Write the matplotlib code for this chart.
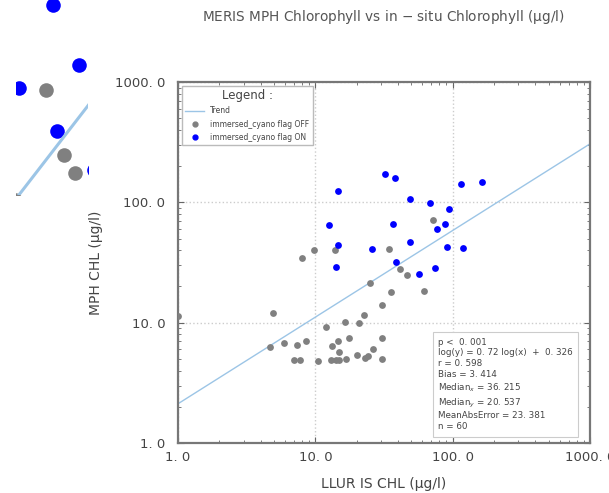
import numpy as np
import matplotlib
matplotlib.use("Agg")
import matplotlib.pyplot as plt
from matplotlib.lines import Line2D
from matplotlib.ticker import FixedLocator, FuncFormatter, LogLocator, NullFormatter

# in-situ (LLUR IS) vs MERIS MPH chlorophyll, ug/l
chl_is_off = [72.0, 9.8, 13.8, 8.0, 34.4, 41.4, 46.8, 25.0, 35.4, 61.6,
              30.8, 4.9, 22.6, 16.5, 20.8, 11.9, 4.7, 5.9, 7.4, 8.6,
              13.2, 14.7, 17.7, 30.5, 14.9, 26.3, 20.0, 23.0, 24.1, 7.0,
              7.7, 10.5, 13.1, 14.2, 14.9, 16.8, 30.8, 1.0]
chl_mph_off = [71.8, 40.2, 40.2, 34.3, 40.7, 27.8, 25.1, 21.5, 17.9, 18.5,
               14.0, 12.0, 11.6, 10.1, 9.9, 9.2, 6.3, 6.8, 6.5, 7.1,
               6.4, 7.0, 7.4, 7.5, 5.7, 6.0, 5.4, 5.1, 5.3, 4.9,
               4.9, 4.8, 4.9, 4.9, 4.9, 5.0, 5.0, 11.4]
chl_is_on = [32.0, 38.1, 14.7, 115.1, 163.8, 48.7, 68.1, 93.7, 12.6, 37.0,
             88.5, 77.0, 14.6, 48.7, 26.0, 90.6, 119.7, 14.2, 38.5, 74.1, 56.6]
chl_mph_on = [171.2, 160.4, 125.1, 141.4, 147.8, 106.1, 99.4, 88.1, 64.9, 66.5,
              66.5, 59.8, 44.0, 46.9, 41.2, 42.6, 41.8, 29.2, 32.1, 28.7, 25.5]

# regression in log space: log(y) = slope*log(x) + intercept
slope, intercept = 0.72, 0.326
stat_names = ["r", "Bias", "Median$_x$", "Median$_y$", "MeanAbsError", "n"]
stat_values = ["0.598", "3.414", "36.215", "20.537", "23.381", "60"]
p_value = "0.001"

major = [1, 10, 100, 1000]
grey = "#808080"
blue = "#0000ff"
trend_c = "#9cc5e6"
txt = "#444444"


def spaced(s):
    return s.replace(".", ". ")


W, H = 609, 493
fig = plt.figure(figsize=(W / 100, H / 100), dpi=100)
ax = fig.add_axes([178 / W, 50 / H, 412 / W, 361 / H])

xs = np.logspace(0, 3, 50)
ax.plot(xs, 10 ** (slope * np.log10(xs) + intercept), color=trend_c, lw=1.0, zorder=2)
ax.scatter(chl_is_off, chl_mph_off, s=24, color=grey, lw=0, zorder=3)
ax.scatter(chl_is_on, chl_mph_on, s=24, color=blue, lw=0, zorder=4)

ax.set_xscale("log")
ax.set_yscale("log")
ax.set_xlim(1, 1000)
ax.set_ylim(1, 1000)

fmt = FuncFormatter(lambda v, p: spaced("%.1f" % v))
for axis in (ax.xaxis, ax.yaxis):
    axis.set_major_locator(FixedLocator(major))
    axis.set_major_formatter(fmt)
    axis.set_minor_locator(LogLocator(base=10, subs=np.arange(2, 10)))
    axis.set_minor_formatter(NullFormatter())
ax.tick_params(which="both", direction="in", top=True, right=True,
               colors="#666666", labelcolor=txt, labelsize=9.5)
ax.tick_params(which="major", length=4, width=0.8)
ax.tick_params(which="minor", length=2.5, width=0.6)
ax.tick_params(axis="y", pad=9)
ax.tick_params(axis="x", pad=6)
ax.grid(True, which="major", ls=":", color="#cccccc", lw=1.0)
for sp in ax.spines.values():
    sp.set_color("#777777")
    sp.set_linewidth(1.6)

ax.set_xlabel("LLUR IS CHL (\u00b5g/l)", fontsize=10, color=txt, labelpad=9)
ax.set_ylabel("MPH CHL (\u00b5g/l)", fontsize=10, color=txt, labelpad=9)
fig.text(383 / W, 1 - 17 / H, "MERIS MPH Chlorophyll vs in $-$ situ Chlorophyll (\u00b5g/l)",
         ha="center", va="center", fontsize=9.8, color="#555555")

handles = [
    Line2D([], [], color=trend_c, lw=1.0),
    Line2D([], [], ls="", marker="o", ms=3.5, color=grey),
    Line2D([], [], ls="", marker="o", ms=3.5, color=blue),
]
leg = ax.legend(handles, ["Trend", "immersed_cyano flag OFF", "immersed_cyano flag ON"],
                loc="upper left", bbox_to_anchor=(0.0, 1.0), fontsize=5.5,
                title="Legend :", title_fontsize=8.5, fancybox=False,
                framealpha=1, edgecolor="#bbbbbb", handlelength=2.5,
                borderpad=0.45, labelspacing=0.55)
for t in leg.get_texts():
    t.set_color(txt)
leg.get_title().set_color(txt)

lines = ["p <  " + spaced(p_value),
         "log(y) = %s log(x)  +  %s" % (spaced("%.2f" % slope), spaced("%.3f" % intercept))]
lines += ["%s = %s" % (k, spaced(v)) for k, v in zip(stat_names, stat_values)]
ax.text(0.631, 0.292, "\n".join(lines), transform=ax.transAxes, ha="left", va="top",
        fontsize=6.3, color=txt, linespacing=1.27,
        bbox=dict(boxstyle="square,pad=0.6", fc="white", ec="#cccccc", lw=0.8))

# magnified view around the trend line
ins = fig.add_axes([16 / W, 1 - 195 / H, 72 / W, 195 / H])
ins.plot(xs, 10 ** (slope * np.log10(xs) + intercept), color=trend_c, lw=2.2)
ins.scatter(chl_is_off, chl_mph_off, s=110, color=grey, lw=0)
ins.scatter(chl_is_on, chl_mph_on, s=110, color=blue, lw=0)
ins.set_xscale("log")
ins.set_yscale("log")
ins.set_xlim(25.2, 53.4)
ins.set_ylim(22.1, 68.6)
ins.axis("off")

fig.savefig("out.png", dpi=100)
